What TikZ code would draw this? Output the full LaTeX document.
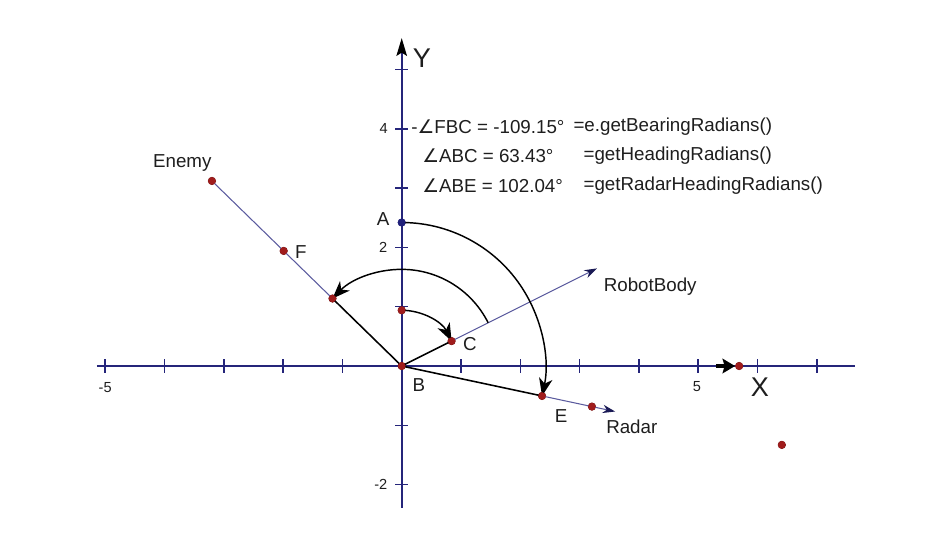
\documentclass[tikz,border=0pt]{standalone}
\usepackage{fontspec}
\setmainfont{Liberation Sans}
\newfontfamily\anglefont{DejaVu Sans}
\usepackage{xcolor}
\definecolor{axisblue}{HTML}{25257A}
\definecolor{rayblue}{HTML}{5A5A9E}
\definecolor{ptred}{HTML}{A01C1C}
\definecolor{ptblue}{HTML}{20207A}
\definecolor{ink}{HTML}{1E1E1E}
\usetikzlibrary{arrows.meta, positioning, calc}
\newcommand{\angsym}{{\anglefont ∠}}

\begin{document}
\begin{tikzpicture}[
  font=\fontsize{9}{11}\selectfont, text=ink,
  axisline/.style={axisblue, line width=1pt},
  tickline/.style={axisblue, line width=0.7pt},
  ray/.style={rayblue, line width=0.5pt},
  leg/.style={black, line width=0.75pt},
  turn/.style={black, line width=0.7pt, -{Stealth[length=8.5pt, width=6.5pt, inset=2.5pt]}},
  raytip/.style={-{Stealth[length=6pt, width=4pt, color=axisblue!70!black]}},
  dot/.style={circle, fill=ptred, draw=ptred!70!black, line width=0.3pt, inner sep=0pt, minimum size=3.6pt},
  bluedot/.style={dot, fill=ptblue, draw=ptblue},
  note/.style={anchor=west, inner sep=0pt},
  ticklabel/.style={font=\fontsize{7}{8}\selectfont},
  axislabel/.style={font=\fontsize{13}{15}\selectfont},
]
  \fill[white] (-6.774,-3.137) rectangle (8.875,6.172);
  \useasboundingbox (-6.774,-3.137) rectangle (8.875,6.172);

  % axes
  \coordinate (xl) at (-5.14,0);
  \coordinate (xr) at (7.64,0);
  \coordinate (yb) at (0,-2.39);
  \coordinate (yt) at (0,5.53);
  \draw[axisline] (xl) -- (xr);
  \draw[axisline, -{Stealth[length=8.5pt, width=5pt, inset=1.5pt, color=black]}] (yb) -- (yt);
  \foreach \i in {-5,...,-1,1,2,...,7}
    \draw[tickline] (\i,-0.11) -- (\i,0.11);
  \foreach \j in {-2,-1,1,2,3,4,5}
    \draw[tickline] (-0.11,\j) -- (0.11,\j);

  \node[ticklabel, anchor=east] (t4) at (-0.11,4.0) {4};
  \node[ticklabel, anchor=east] (t2) at (-0.12,2.0) {2};
  \node[ticklabel, anchor=east] (tm2) at (-0.12,-2.0) {-2};
  \node[ticklabel] (tm5) at (-5.0,-0.37) {-5};
  \node[ticklabel] (t5) at (4.98,-0.35) {5};
  \node[axislabel] (xlab) at (6.04,-0.36) {X};
  \node[axislabel] (ylab) at (0.34,5.19) {Y};

  % points
  \node[dot] (B) at (0,0) {};
  \node[bluedot] (A) at (0,2.42) {};
  \node[dot] (D) at (0,0.94) {};
  \node[dot] (C) at (26.57:0.94) {};
  \node[dot] (G) at (135.72:1.63) {};
  \node[dot] (F) at (135.72:2.78) {};
  \node[dot] (N) at (135.72:4.47) {};
  \node[dot] (E) at (-12.04:2.42) {};
  \node[dot] (R) at (-12.04:3.28) {};
  \node[dot] (P) at (5.69,0) {};
  \node[dot] (Q) at (6.41,-1.33) {};
  \coordinate (arcstart) at (26.57:1.63);
  \coordinate (bodyend) at (26.57:3.68);
  \coordinate (radarend) at (-12.04:3.68);
  \coordinate (xm) at (5.30,0);

  % rays
  \draw[ray] (N.center) -- (G.center);
  \draw[leg] (G.center) -- (B.center);
  \draw[leg] (B.center) -- (C.center);
  \draw[ray, raytip] (C.center) -- (bodyend);
  \draw[leg] (B.center) -- (E.center);
  \draw[ray] (E.center) -- (R.center);
  \draw[ray, raytip] (R.center) -- (radarend);
  \draw[black, line width=2pt, -{Stealth[length=6pt, width=7pt, inset=1pt]}] (xm) -- (P);

  % turning arcs
  \draw[turn] (A.center) arc[start angle=90, end angle=-12.04, radius=2.42];
  \draw[turn] (arcstart) arc[start angle=26.57, end angle=135.72, radius=1.63];
  \draw[turn] (D.center) arc[start angle=90, end angle=26.57, radius=0.94];

  % redraw dots on top
  \foreach \p in {B,D,C,G,F,N,E,R,P,Q}
    \fill[ptred] (\p) circle (1.8pt);
  \fill[ptblue] (A) circle (1.8pt);

  % labels
  \node (labA) at (-0.315,2.48) {A};
  \node (labB) at (0.29,-0.32) {B};
  \node (labC) at (1.15,0.37) {C};
  \node (labE) at (2.69,-0.84) {E};
  \node (labF) at (-1.70,1.92) {F};
  \node (labEnemy) at (-3.70,3.42) {Enemy};
  \node (labBody) at (4.19,1.33) {RobotBody};
  \node (labRadar) at (3.88,-1.03) {Radar};

  % angle readouts
  \node[note] (fbc) at (0.157,4.03) {-\angsym FBC = -109.15°};
  \node[note] (abc) at (0.34,3.54) {\angsym ABC = 63.43°};
  \node[note] (abe) at (0.34,3.04) {\angsym ABE = 102.04°};
  \node[note] (fbcget) at (2.89,4.03) {=e.getBearingRadians()};
  \node[note] (abcget) at (3.06,3.54) {=getHeadingRadians()};
  \node[note] (abeget) at (3.06,3.04) {=getRadarHeadingRadians()};
\end{tikzpicture}
\end{document}
